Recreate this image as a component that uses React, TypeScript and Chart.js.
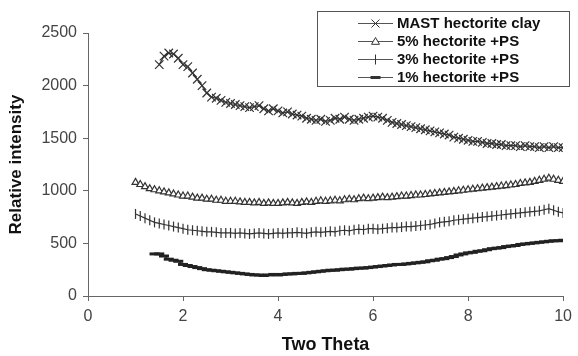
import React, { useEffect, useRef } from "react";
import { Chart, registerables } from "chart.js";

Chart.register(...registerables);

const xTicks = [0, 2, 4, 6, 8, 10];
const yTicks = [0, 500, 1000, 1500, 2000, 2500];

const seriesLabels = [
  "MAST hectorite clay",
  "5% hectorite +PS",
  "3% hectorite +PS",
  "1% hectorite +PS",
];

const startMast = 1.5;
const mastValues = [
  2200, 2280, 2310, 2300, 2260, 2200, 2180, 2120, 2060, 2000,
  1930, 1890, 1880, 1860, 1840, 1830, 1820, 1810, 1800, 1790,
  1800, 1810, 1780, 1760, 1780, 1760, 1740, 1750, 1730, 1720,
  1710, 1690, 1680, 1670, 1680, 1660, 1670, 1690, 1680, 1700,
  1680, 1670, 1680, 1690, 1700, 1710, 1700, 1690, 1670, 1650,
  1640, 1630, 1620, 1610, 1600, 1590, 1580, 1570, 1560, 1550,
  1540, 1530, 1510, 1500, 1490, 1480, 1470, 1470, 1460, 1450,
  1450, 1440, 1440, 1430, 1430, 1430, 1420, 1430, 1420, 1420,
  1410, 1420, 1410, 1420, 1410, 1410,
];

const start5 = 1.0;
const pct5Values = [
  1080, 1060, 1040, 1020, 1010, 1000, 990, 980, 970, 960,
  950, 950, 940, 930, 930, 920, 920, 910, 910, 900,
  900, 900, 895, 890, 890, 885, 890, 880, 885, 880,
  880, 885, 890, 885, 880, 890, 895, 890, 900, 905,
  900, 905, 910, 905, 915, 920, 915, 925, 930, 925,
  930, 935, 940, 935, 940, 945, 950, 950, 955, 960,
  960, 965, 970, 975, 980, 985, 990, 995, 1000, 1005,
  1010, 1015, 1020, 1025, 1030, 1035, 1040, 1045, 1050, 1055,
  1060, 1070, 1075, 1080, 1090, 1100, 1110, 1120, 1110, 1100,
  1090,
];

const start3 = 1.0;
const pct3Values = [
  780, 760, 740, 720, 700, 690, 680, 670, 660, 650,
  640, 630, 625, 620, 615, 610, 610, 605, 600, 600,
  600, 595, 600, 595, 590, 595, 600, 595, 590, 595,
  600, 595, 600, 600, 605, 600, 595, 605, 610, 605,
  610, 615, 610, 620, 625, 620, 630, 635, 630, 640,
  640, 635, 640, 645, 650, 650, 655, 660, 660, 665,
  670, 675, 680, 690, 700, 705, 710, 720, 725, 730,
  735, 740, 745, 750, 755, 760, 765, 770, 775, 780,
  785, 790, 795, 800, 805, 810, 820, 830, 815, 800,
  790,
];

const start1 = 1.4;
const pct1Values = [
  400, 400, 380, 350, 340, 330, 300, 290, 280, 270,
  260, 250, 245, 240, 235, 230, 225, 220, 215, 210,
  205, 200, 200, 195, 200, 205, 200, 205, 210, 210,
  215, 215, 220, 225, 230, 235, 240, 245, 245, 250,
  255, 255, 260, 265, 265, 270, 275, 280, 285, 290,
  295, 300, 300, 305, 310, 315, 320, 325, 335, 340,
  350, 355, 365, 375, 390, 400, 410, 415, 425, 430,
  440, 450, 455, 460, 470, 475, 480, 490, 495, 500,
  505, 510, 515, 520, 525, 525, 530,
];

const toPoints = (start: number, vals: number[]) =>
  vals.map((v, i) => ({ x: Math.round((start + i * 0.1) * 10) / 10, y: v }));

const markerStyles = ["crossRot", "triangle", "cross", "line"];

function drawMarker(ctx: CanvasRenderingContext2D, style: string, x: number, y: number) {
  ctx.save();
  ctx.strokeStyle = "#333";
  ctx.fillStyle = "#fff";
  ctx.lineWidth = 1;
  ctx.beginPath();
  if (style === "crossRot") {
    const r = 4;
    ctx.moveTo(x - r, y - r); ctx.lineTo(x + r, y + r);
    ctx.moveTo(x + r, y - r); ctx.lineTo(x - r, y + r);
    ctx.stroke();
  } else if (style === "triangle") {
    const r = 4;
    ctx.moveTo(x, y - r); ctx.lineTo(x + r, y + r * 0.7); ctx.lineTo(x - r, y + r * 0.7);
    ctx.closePath(); ctx.fill(); ctx.stroke();
  } else if (style === "cross") {
    ctx.moveTo(x, y - 5); ctx.lineTo(x, y + 5);
    ctx.stroke();
  } else {
    ctx.lineWidth = 3;
    ctx.moveTo(x - 5, y); ctx.lineTo(x + 5, y);
    ctx.stroke();
  }
  ctx.restore();
}

const legendPlugin = {
  id: "boxLegend",
  afterDraw(chart: any) {
    const ctx: CanvasRenderingContext2D = chart.ctx;
    ctx.save();
    ctx.fillStyle = "#fff";
    ctx.fillRect(317.5, 11.5, 252, 75);
    ctx.strokeStyle = "#555";
    ctx.lineWidth = 1;
    ctx.strokeRect(317.5, 11.5, 252, 75);
    seriesLabels.forEach((label, i) => {
      const y = 23 + 18 * i;
      ctx.strokeStyle = "#555";
      ctx.lineWidth = 1;
      ctx.beginPath();
      ctx.moveTo(358, y + 0.5);
      ctx.lineTo(393, y + 0.5);
      ctx.stroke();
      drawMarker(ctx, markerStyles[i], 375.5, y + 0.5);
      ctx.fillStyle = "#111";
      ctx.font = "bold 15px 'Liberation Sans', Arial, sans-serif";
      ctx.textBaseline = "middle";
      ctx.textAlign = "left";
      ctx.fillText(label, 397, y + 1);
    });
    ctx.restore();
  },
};

export default function App() {
  const ref = useRef<HTMLCanvasElement | null>(null);

  useEffect(() => {
    document.body.style.margin = "0";
    const canvas = ref.current;
    if (!canvas) return;
    const font = "'Liberation Sans', Arial, sans-serif";
    const common = {
      showLine: true,
      borderColor: "#333",
      borderWidth: 1.2,
      pointBorderColor: "#333",
      pointBackgroundColor: "#fff",
      pointBorderWidth: 1.2,
    };
    const chart = new Chart(canvas, {
      type: "scatter",
      data: {
        datasets: [
          { ...common, label: seriesLabels[0], data: toPoints(startMast, mastValues), pointStyle: "crossRot", pointRadius: 6 },
          { ...common, label: seriesLabels[1], data: toPoints(start5, pct5Values), pointStyle: "triangle", pointRadius: 4 },
          { ...common, label: seriesLabels[2], data: toPoints(start3, pct3Values), pointStyle: "line", rotation: 90, pointRadius: 5 },
          { ...common, label: seriesLabels[3], data: toPoints(start1, pct1Values), pointStyle: "line", pointRadius: 5, pointBorderWidth: 3, pointBorderColor: "#222" },
        ],
      },
      options: {
        animation: false,
        responsive: false,
        maintainAspectRatio: false,
        layout: { padding: { top: 33, right: 13, left: 0, bottom: 0 } },
        plugins: { legend: { display: false }, tooltip: { enabled: false } },
        scales: {
          x: {
            type: "linear",
            min: 0,
            max: 10,
            afterBuildTicks: (s: any) => { s.ticks = xTicks.map((v) => ({ value: v })); },
            afterFit: (s: any) => { s.height = 60; },
            grid: { display: true, drawOnChartArea: false, drawTicks: true, tickLength: 5, color: "#666" },
            border: { display: true, color: "#666", width: 1 },
            ticks: { color: "#444", font: { family: font, size: 16 }, padding: 6, maxRotation: 0, callback: (v: any) => String(v) },
            title: { display: true, text: "Two Theta", color: "#111", font: { family: font, size: 18, weight: "bold" }, padding: { top: 2, bottom: 0 } },
          },
          y: {
            type: "linear",
            min: 0,
            max: 2500,
            afterBuildTicks: (s: any) => { s.ticks = yTicks.map((v) => ({ value: v })); },
            afterFit: (s: any) => { s.width = 88; },
            grid: { display: true, drawOnChartArea: false, drawTicks: true, tickLength: 5, color: "#666" },
            border: { display: true, color: "#666", width: 1 },
            ticks: { color: "#444", font: { family: font, size: 16 }, padding: 6, callback: (v: any) => String(v) },
            title: { display: true, text: "Relative intensity", color: "#111", font: { family: font, size: 17, weight: "bold" }, padding: { top: 6, bottom: 0 } },
          },
        },
      },
      plugins: [legendPlugin],
    } as any);
    return () => chart.destroy();
  }, []);

  return (
    <div style={{ width: 578, height: 356, position: "relative", background: "#fff" }}>
      <canvas ref={ref} width={578} height={356} style={{ display: "block" }} />
    </div>
  );
}
